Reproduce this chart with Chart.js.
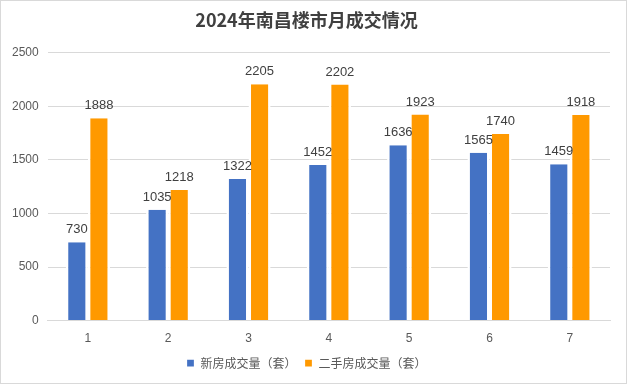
<!DOCTYPE html>
<html>
<head>
<meta charset="utf-8">
<script src="https://cdn.jsdelivr.net/npm/chart.js@4/dist/chart.umd.min.js"></script>
<style>
  html, body { margin: 0; padding: 0; background: #fff; }
  #wrap { width: 625px; height: 382px; border: 1px solid #d9d9d9; }
</style>
</head>
<body>
<div id="wrap"><canvas id="myChart" width="625" height="382"></canvas></div>
<script>
const months = ["1", "2", "3", "4", "5", "6", "7"];
const newHouse = [730, 1035, 1322, 1452, 1636, 1565, 1459];
const secondHand = [1888, 1218, 2205, 2202, 1923, 1740, 1918];
const yTicks = [0, 500, 1000, 1500, 2000, 2500];

// draw the value above each bar
const barLabels = {
  id: "barLabels",
  afterDatasetsDraw(chart) {
    const ctx = chart.ctx;
    ctx.save();
    ctx.font = "13px 'Liberation Sans', Arial, sans-serif";
    ctx.fillStyle = "#404040";
    ctx.textAlign = "center";
    ctx.textBaseline = "bottom";
    chart.data.datasets.forEach((ds, i) => {
      chart.getDatasetMeta(i).data.forEach((bar, j) => {
        ctx.fillText(ds.data[j], bar.x, bar.y - 6);
      });
    });
    ctx.restore();
  }
};

new Chart(document.getElementById("myChart"), {
  type: "bar",
  data: {
    labels: months,
    datasets: [
      {
        label: "新房成交量（套）",
        data: newHouse,
        backgroundColor: "#4472C4",
        borderColor: "#ffffff",
        borderWidth: { left: 2.5, right: 2.5, top: 0, bottom: 0 },
        borderSkipped: false,
        categoryPercentage: 0.55,
        barPercentage: 1
      },
      {
        label: "二手房成交量（套）",
        data: secondHand,
        backgroundColor: "#FF9900",
        borderColor: "#ffffff",
        borderWidth: { left: 2.5, right: 2.5, top: 0, bottom: 0 },
        borderSkipped: false,
        categoryPercentage: 0.55,
        barPercentage: 1
      }
    ]
  },
  options: {
    responsive: false,
    animation: false,
    layout: { padding: { left: 2, right: 16, top: 0, bottom: 4 } },
    plugins: {
      title: {
        display: true,
        text: "2024年南昌楼市月成交情况",
        color: "#404040",
        font: { size: 18, weight: "bold", family: "'Noto Sans CJK SC', sans-serif" },
        padding: { top: 8, bottom: 22 }
      },
      legend: {
        position: "bottom",
        labels: {
          boxWidth: 8,
          boxHeight: 8,
          color: "#595959",
          font: { size: 12, family: "'Noto Sans CJK SC', sans-serif" },
          padding: 8
        }
      },
      tooltip: { enabled: false }
    },
    scales: {
      x: {
        grid: { display: false },
        border: { color: "#d9d9d9" },
        ticks: { color: "#595959", font: { size: 12, family: "'Liberation Sans', Arial, sans-serif" } }
      },
      y: {
        min: 0,
        max: 2500,
        afterBuildTicks(axis) { axis.ticks = yTicks.map(v => ({ value: v })); },
        grid: { color: "#d9d9d9", drawTicks: false },
        border: { display: false },
        ticks: {
          color: "#595959",
          padding: 9,
          font: { size: 12, family: "'Liberation Sans', Arial, sans-serif" },
          callback: v => String(v)
        }
      }
    }
  },
  plugins: [barLabels]
});
</script>
</body>
</html>
